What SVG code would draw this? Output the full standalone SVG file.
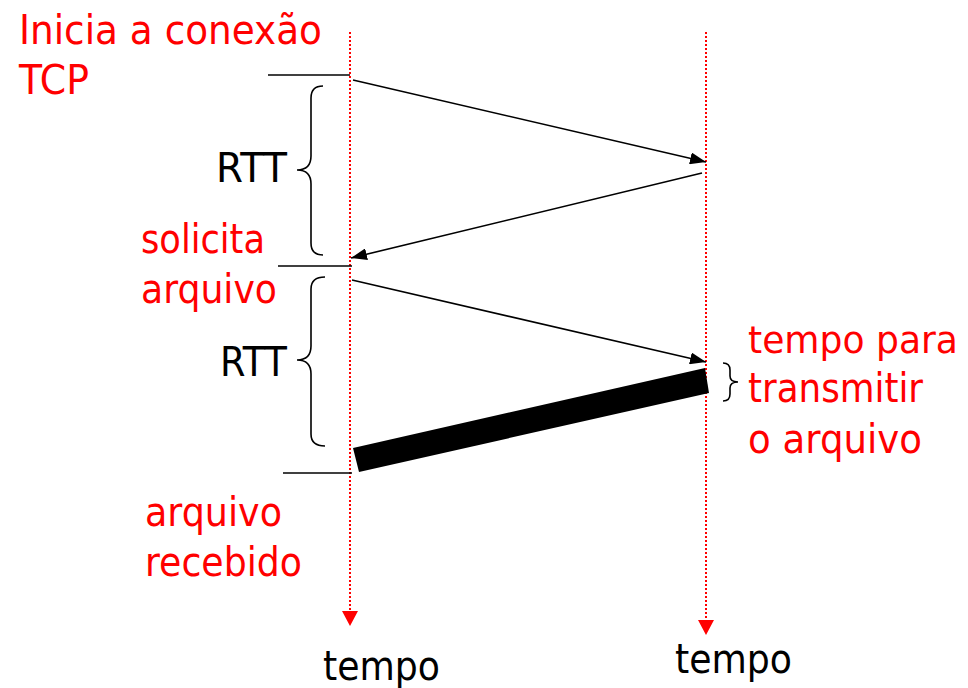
<svg xmlns="http://www.w3.org/2000/svg" width="968" height="688" viewBox="0 0 968 688">
<style>
text{font-family:"DejaVu Sans","Liberation Sans",sans-serif;font-size:40px}
.red{fill:#ff0000}
.blk{fill:#000000}
.tl{stroke:#ff0000;stroke-width:2;stroke-dasharray:2 2;fill:none}
.ln{stroke:#000;stroke-width:1.6;fill:none}
.br{stroke:#000;stroke-width:1.6;fill:none}
</style>
<defs>
<marker id="ah" viewBox="0 0 16 12" refX="16" refY="6" markerWidth="16" markerHeight="12" markerUnits="userSpaceOnUse" orient="auto">
<path d="M0,0 L16,6 L0,12 Z" fill="#000"/>
</marker>
</defs>
<rect width="968" height="688" fill="#fff"/>
<g id="timeline-left">
<line class="tl" x1="350" y1="32" x2="350" y2="612"/>
<path d="M342,611 L358,611 L350,626 Z" fill="#ff0000"/>
</g>
<g id="timeline-right">
<line class="tl" x1="706" y1="32" x2="706" y2="621"/>
<path d="M698,620 L714,620 L706,635 Z" fill="#ff0000"/>
</g>
<g id="ticks">
<line class="ln" x1="268" y1="75" x2="350" y2="75"/>
<line class="ln" x1="278" y1="266" x2="352" y2="266"/>
<line class="ln" x1="283" y1="473" x2="352" y2="473"/>
</g>
<g id="braces">
<path class="br" d="M323,86 Q311,86 311,98 L311,156 Q311,170 297,170 Q311,170 311,184 L311,243 Q311,255 323,255"/>
<path class="br" d="M325,277 Q311,277 311,289 L311,346 Q311,360 297,360 Q311,360 311,374 L311,434 Q311,446 325,446"/>
<path class="br" d="M723,363 Q730,363 730,370 L730,376 Q730,382 738,382 Q730,382 730,388 L730,394 Q730,401 723,401"/>
</g>
<g id="connectors">
<line class="ln" x1="353" y1="80" x2="706" y2="162" marker-end="url(#ah)"/>
<line class="ln" x1="702" y1="173" x2="351" y2="258" marker-end="url(#ah)"/>
<line class="ln" x1="352" y1="280" x2="706" y2="362" marker-end="url(#ah)"/>
<polygon points="353,448 359,472 709,393 705,368" fill="#000"/>
</g>
<g id="labels">
<text class="red" x="19" y="44" textLength="303" lengthAdjust="spacingAndGlyphs">Inicia a conexão</text>
<text class="red" x="19" y="94" textLength="70" lengthAdjust="spacingAndGlyphs">TCP</text>
<text class="blk" x="216" y="182" textLength="71" lengthAdjust="spacingAndGlyphs">RTT</text>
<text class="red" x="141" y="253" textLength="124" lengthAdjust="spacingAndGlyphs">solicita</text>
<text class="red" x="141" y="303" textLength="136" lengthAdjust="spacingAndGlyphs">arquivo</text>
<text class="blk" x="220" y="376" textLength="67" lengthAdjust="spacingAndGlyphs">RTT</text>
<text class="red" x="145" y="526" textLength="137" lengthAdjust="spacingAndGlyphs">arquivo</text>
<text class="red" x="145" y="576" textLength="157" lengthAdjust="spacingAndGlyphs">recebido</text>
<text class="red" x="748" y="353" style="font-size:37px" textLength="210" lengthAdjust="spacingAndGlyphs">tempo para</text>
<text class="red" x="748" y="402" textLength="175" lengthAdjust="spacingAndGlyphs">transmitir</text>
<text class="red" x="748" y="453" textLength="174" lengthAdjust="spacingAndGlyphs">o arquivo</text>
<text class="blk" x="323" y="680" textLength="117" lengthAdjust="spacingAndGlyphs">tempo</text>
<text class="blk" x="675" y="673" textLength="117" lengthAdjust="spacingAndGlyphs">tempo</text>
</g>
</svg>
